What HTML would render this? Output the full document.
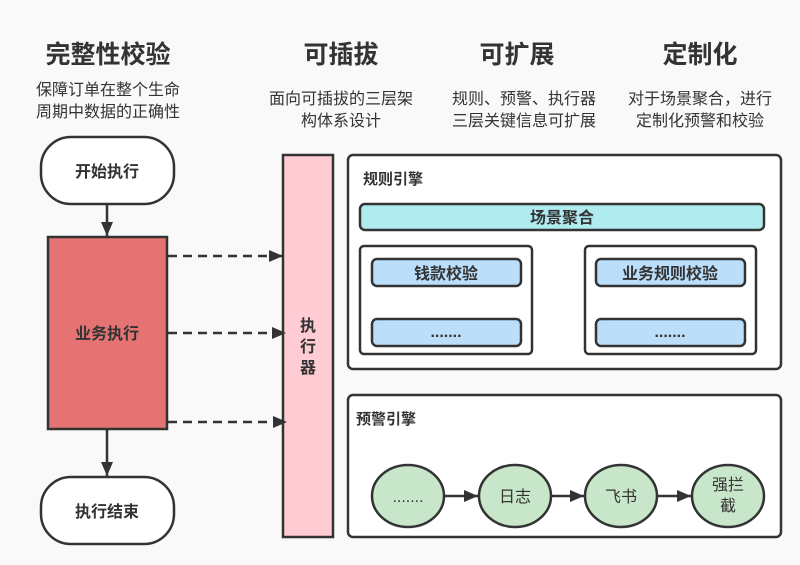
<!DOCTYPE html>
<html><head><meta charset="utf-8"><style>
html,body{margin:0;padding:0;background:#f9f9f9;}
svg{display:block;font-family:"Liberation Sans","Noto Sans CJK SC",sans-serif;}
</style></head><body>
<svg width="800" height="565" viewBox="0 0 800 565" xmlns="http://www.w3.org/2000/svg">
<defs>
<marker id="ah" markerWidth="10" markerHeight="10" refX="9" refY="5" orient="auto" markerUnits="userSpaceOnUse" viewBox="0 0 10 10">
<path d="M0,0 L10,5 L0,10 z" fill="#333"/>
</marker>
<marker id="ah2" markerWidth="14" markerHeight="12" refX="14" refY="6" orient="auto" markerUnits="userSpaceOnUse" viewBox="0 0 14 12">
<path d="M0,0 L14,6 L0,12 z" fill="#333"/>
</marker>
</defs>
<rect width="800" height="565" fill="#f9f9f9"/>
<g font-weight="bold" font-size="25" fill="#333" text-anchor="middle">
<text x="108" y="63">完整性校验</text>
<text x="341" y="63">可插拔</text>
<text x="517" y="63">可扩展</text>
<text x="700" y="63">定制化</text>
</g>
<g font-size="16" fill="#333" text-anchor="middle">
<text x="108" y="95">保障订单在整个生命</text>
<text x="108" y="117">周期中数据的正确性</text>
<text x="341" y="104">面向可插拔的三层架</text>
<text x="341" y="126">构体系设计</text>
<text x="524" y="104">规则、预警、执行器</text>
<text x="524" y="126">三层关键信息可扩展</text>
<text x="700" y="104">对于场景聚合，进行</text>
<text x="700" y="126">定制化预警和校验</text>
</g>
<g stroke="#333" stroke-width="2.5">
<rect x="41" y="137" width="133" height="67" rx="30" fill="#fff"/>
<rect x="48" y="237" width="119" height="192" fill="#e57373"/>
<rect x="41" y="477" width="133" height="67" rx="30" fill="#fff"/>
<rect x="283" y="155" width="50" height="382" fill="#ffccd3"/>
<line x1="107" y1="204" x2="107" y2="236" marker-end="url(#ah2)"/>
<line x1="107" y1="429" x2="107" y2="476" marker-end="url(#ah2)"/>
<g stroke-dasharray="9,6" fill="none">
<line x1="168" y1="256" x2="283" y2="256" marker-end="url(#ah2)"/>
<line x1="168" y1="333" x2="286" y2="333" marker-end="url(#ah2)"/>
<line x1="168" y1="422" x2="287" y2="422" marker-end="url(#ah2)"/>
</g>
<rect x="348" y="155" width="433" height="214" rx="5" fill="#fff"/>
<rect x="360" y="204" width="404" height="26" rx="5" fill="#b0ebf0"/>
<rect x="360" y="246" width="172" height="108" rx="4" fill="#fff"/>
<rect x="585" y="246" width="171" height="108" rx="4" fill="#fff"/>
<rect x="372" y="259" width="149" height="27" rx="5" fill="#bbdefb"/>
<rect x="372" y="319" width="149" height="27" rx="5" fill="#bbdefb"/>
<rect x="596" y="259" width="149" height="27" rx="5" fill="#bbdefb"/>
<rect x="596" y="319" width="149" height="27" rx="5" fill="#bbdefb"/>
<rect x="348" y="395" width="433" height="142" rx="5" fill="#fff"/>
<line x1="444" y1="496" x2="478" y2="496" marker-end="url(#ah2)"/>
<line x1="551" y1="496" x2="584" y2="496" marker-end="url(#ah2)"/>
<line x1="657" y1="496" x2="691" y2="496" marker-end="url(#ah2)"/>
<g fill="#c8e6c9">
<ellipse cx="408" cy="496" rx="36" ry="31"/>
<ellipse cx="515" cy="496" rx="36" ry="31"/>
<ellipse cx="621" cy="496" rx="36" ry="31"/>
<ellipse cx="728" cy="496" rx="36" ry="31"/>
</g>
</g>
<g font-size="16" font-weight="bold" fill="#333" text-anchor="middle">
<text x="107" y="177">开始执行</text>
<text x="107" y="339">业务执行</text>
<text x="107" y="517">执行结束</text>
<text x="308" y="331">执</text>
<text x="308" y="352">行</text>
<text x="308" y="373">器</text>
<text x="562" y="223">场景聚合</text>
<text x="446" y="279">钱款校验</text>
<text x="670" y="279">业务规则校验</text>
<text x="446" y="337">.......</text>
<text x="670" y="337">.......</text>
</g>
<g font-size="15" font-weight="bold" fill="#333">
<text x="363" y="184">规则引擎</text>
<text x="356" y="424">预警引擎</text>
</g>
<g font-size="16" fill="#333" text-anchor="middle">
<text x="408" y="502">.......</text>
<text x="515" y="502">日志</text>
<text x="621" y="502">飞书</text>
<text x="728" y="490">强拦</text>
<text x="728" y="511">截</text>
</g>
</svg>
</body></html>
